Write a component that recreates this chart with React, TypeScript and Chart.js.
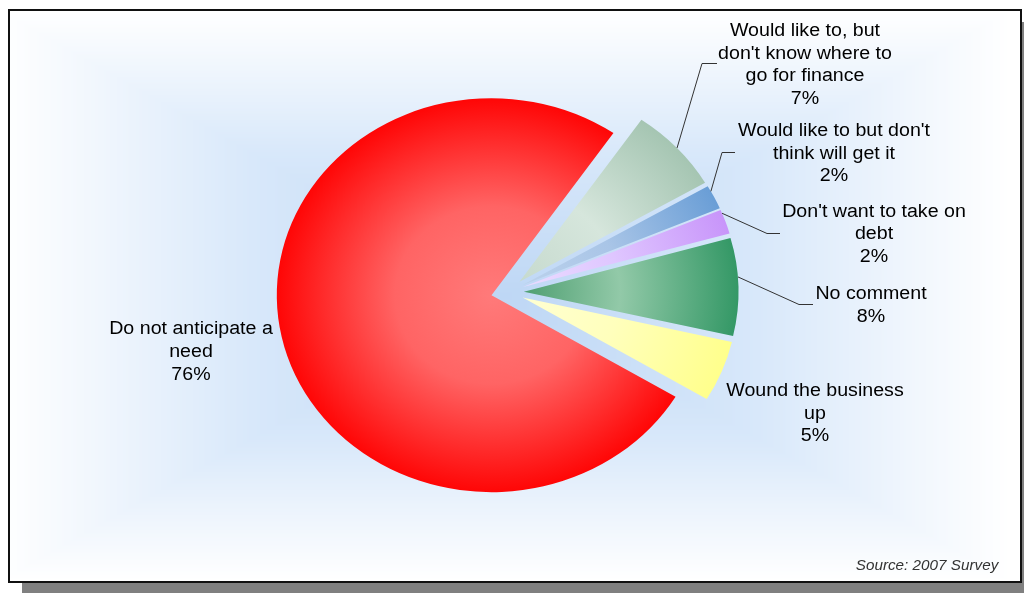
import React, { useEffect, useRef } from "react";
import { Chart, registerables } from "chart.js";

Chart.register(...registerables);

// ---------- data ----------
const categories: string[] = [
  "Would like to, but don't know where to go for finance",
  "Would like to but don't think will get it",
  "Don't want to take on debt",
  "No comment",
  "Wound the business up",
  "Do not anticipate a need",
];
const values: number[] = [7, 2, 2, 8, 5, 76];
const labelLines: string[][] = [
  ["Would like to, but", "don't know where to", "go for finance"],
  ["Would like to but don't", "think will get it"],
  ["Don't want to take on", "debt"],
  ["No comment"],
  ["Wound the business", "up"],
  ["Do not anticipate a", "need"],
];
const sourceNote = "Source: 2007 Survey";

// ---------- styles ----------
const innerColors = ["#c6dace", "#bcd2ec", "#eadcff", "#4f9f72", "#ffffd2", "#ff7a7a"];
const midColors = ["#d6e6dc", "#a9c5e7", "#dfc6ff", "#92c9a8", "#ffffbc", "#ff6464"];
const outerColors = ["#a5c5b2", "#6a9ed6", "#c895fa", "#349866", "#ffff8c", "#ff0606"];
const XSCALE = 1.09;
const EXPLODE = 15;
const RADIUS = 197;
const ROTATION = 34.6;
const FONT = '18px "Liberation Sans", Arial, sans-serif';
const LINE_H = 22.7;
// label anchor: [center x, first baseline y]
const labelPos: number[][] = [
  [805, 36],
  [834, 136],
  [874, 216.7],
  [871, 299],
  [815, 396],
  [191, 334.3],
];
const leaderFrac: (number | null)[] = [0.5, 0.24, 0.14, 0.4, null, null];
const leaderElbows: (number[][] | null)[] = [
  [[702, 63], [717, 63]],
  [[722, 152], [735, 152]],
  [[767, 233], [780, 233]],
  [[799, 304], [813, 304]],
  null,
  null,
];
// glow (rectangular path gradient): stops [t, r, g, b]
const glowStops: number[][] = [
  [0, 190, 215, 245],
  [0.5, 216, 232, 250],
  [0.8, 240, 246, 253],
  [1, 255, 255, 255],
];

function drawText(ctx: CanvasRenderingContext2D, text: string, x: number, y: number, font: string, color: string) {
  ctx.save();
  ctx.translate(x, y);
  ctx.scale(XSCALE, 1);
  ctx.font = font;
  ctx.fillStyle = color;
  ctx.textAlign = "center";
  ctx.textBaseline = "alphabetic";
  ctx.fillText(text, 0, 0);
  ctx.restore();
}

function glowColor(t: number): number[] {
  if (t >= 1) return [255, 255, 255];
  for (let k = 1; k < glowStops.length; k++) {
    const a = glowStops[k - 1];
    const b = glowStops[k];
    if (t <= b[0]) {
      const f = (t - a[0]) / (b[0] - a[0]);
      return [a[1] + (b[1] - a[1]) * f, a[2] + (b[2] - a[2]) * f, a[3] + (b[3] - a[3]) * f];
    }
  }
  return [255, 255, 255];
}

const decor = {
  id: "decor",
  beforeDraw(chart: any) {
    const ctx: CanvasRenderingContext2D = chart.ctx;
    const W = chart.width;
    const H = chart.height;
    ctx.save();
    ctx.fillStyle = "#ffffff";
    ctx.fillRect(0, 0, W, H);
    ctx.fillStyle = "#808080";
    ctx.fillRect(22, 22, W - 22, H - 22);
    ctx.fillStyle = "#ffffff";
    ctx.fillRect(8, 9, 1014, 574);
    ctx.restore();
    // rectangular path gradient glow
    const L = 10, T = 11, R = 1020, B = 581;
    const gcx = 505, gcy = 296;
    const hw = (R - L) / 2, hh = (B - T) / 2;
    const img = ctx.createImageData(R - L, B - T);
    const d = img.data;
    for (let y = T; y < B; y++) {
      for (let x = L; x < R; x++) {
        const t = Math.max(Math.abs(x + 0.5 - gcx) / hw, Math.abs(y + 0.5 - gcy) / hh);
        const c = glowColor(t);
        const idx = ((y - T) * (R - L) + (x - L)) * 4;
        d[idx] = c[0];
        d[idx + 1] = c[1];
        d[idx + 2] = c[2];
        d[idx + 3] = 255;
      }
    }
    ctx.putImageData(img, L, T);
    ctx.save();
    ctx.strokeStyle = "#111111";
    ctx.lineWidth = 2;
    ctx.strokeRect(9, 10, 1012, 572);
    ctx.restore();
  },
  afterDatasetUpdate(chart: any, args: any) {
    const meta = args.meta;
    meta.data.forEach((el: any) => {
      const mid = (el.startAngle + el.endAngle) / 2;
      el.x += EXPLODE * Math.cos(mid);
      el.y += EXPLODE * Math.sin(mid);
    });
  },
  beforeDatasetsDraw(chart: any) {
    const ctx = chart.ctx;
    const a = chart.chartArea;
    const cx = (a.left + a.right) / 2;
    const cy = (a.top + a.bottom) / 2;
    ctx.save();
    ctx.translate(cx, cy);
    ctx.scale(XSCALE, 1);
    ctx.translate(-cx, -cy);
  },
  afterDatasetsDraw(chart: any) {
    const ctx: CanvasRenderingContext2D = chart.ctx;
    ctx.restore();
    const a = chart.chartArea;
    const cx = (a.left + a.right) / 2;
    const meta = chart.getDatasetMeta(0);
    // leader lines
    meta.data.forEach((el: any, i: number) => {
      const frac = leaderFrac[i];
      const elb = leaderElbows[i];
      if (frac === null || !elb) return;
      const ang = el.startAngle + frac * (el.endAngle - el.startAngle);
      const px = el.x + el.outerRadius * Math.cos(ang);
      const py = el.y + el.outerRadius * Math.sin(ang);
      const sx = cx + (px - cx) * XSCALE;
      ctx.save();
      ctx.strokeStyle = "#333333";
      ctx.lineWidth = 1;
      ctx.beginPath();
      ctx.moveTo(sx, py);
      ctx.lineTo(elb[0][0], elb[0][1] + 0.5);
      ctx.lineTo(elb[1][0], elb[1][1] + 0.5);
      ctx.stroke();
      ctx.restore();
    });
    // labels
    labelLines.forEach((lines, i) => {
      const [x, y0] = labelPos[i];
      const all = [...lines, `${values[i]}%`];
      all.forEach((t, k) => drawText(ctx, t, x, y0 + k * LINE_H, FONT, "#000000"));
    });
    drawText(ctx, sourceNote, 927, 569.5, 'italic 14px "Liberation Sans", Arial, sans-serif', "#333333");
  },
};

function sliceFill(c: any) {
  const i: number = c.dataIndex;
  const chart = c.chart;
  const area = chart.chartArea;
  if (i === undefined || !area) return outerColors[0];
  const cx = (area.left + area.right) / 2;
  const cy = (area.top + area.bottom) / 2;
  const total = values.reduce((s, v) => s + v, 0);
  let start = -Math.PI / 2 + (ROTATION * Math.PI) / 180;
  for (let k = 0; k < i; k++) start += (values[k] / total) * Math.PI * 2;
  const mid = start + (values[i] / total) * Math.PI;
  const vx = cx + EXPLODE * Math.cos(mid);
  const vy = cy + EXPLODE * Math.sin(mid);
  const g = chart.ctx.createRadialGradient(vx, vy, 0, vx, vy, RADIUS);
  g.addColorStop(0, innerColors[i]);
  g.addColorStop(0.45, midColors[i]);
  g.addColorStop(1, outerColors[i]);
  return g;
}

export default function App() {
  const ref = useRef<HTMLCanvasElement>(null);
  useEffect(() => {
    const chart = new Chart(ref.current as HTMLCanvasElement, {
      type: "pie",
      data: {
        labels: categories,
        datasets: [
          {
            data: values,
            backgroundColor: sliceFill as any,
            borderWidth: 0,
            hoverOffset: 0,
          },
        ],
      },
      options: {
        responsive: false,
        animation: false,
        devicePixelRatio: 1,
        rotation: ROTATION,
        radius: RADIUS,
        layout: { padding: { left: 0, top: 0, right: 9, bottom: 9 } },
        events: [],
        plugins: {
          legend: { display: false },
          tooltip: { enabled: false },
        },
      } as any,
      plugins: [decor as any],
    });
    return () => chart.destroy();
  }, []);
  return (
    <canvas
      ref={ref}
      width={1024}
      height={593}
      style={{ position: "fixed", left: 0, top: 0, display: "block", width: 1024, height: 593 }}
    />
  );
}
